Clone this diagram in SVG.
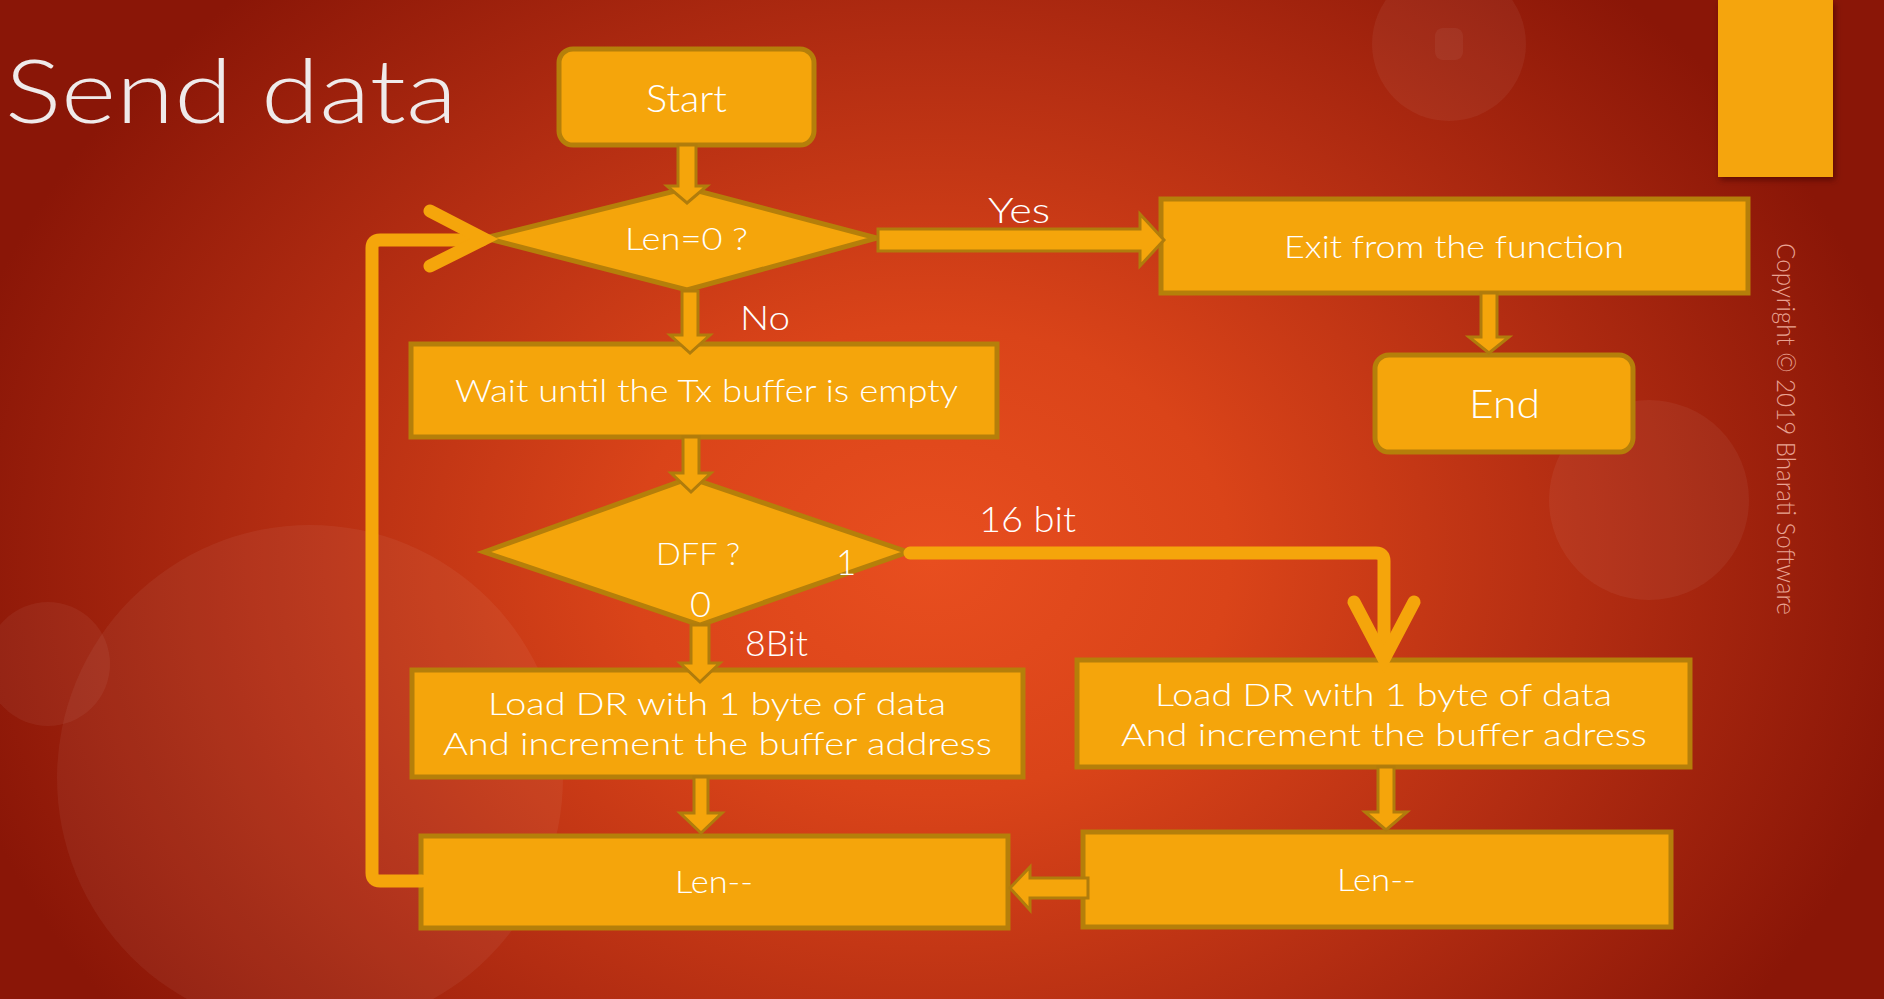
<svg xmlns="http://www.w3.org/2000/svg" width="1884" height="999" viewBox="0 0 1884 999">
<defs>
  <radialGradient id="bg" gradientUnits="userSpaceOnUse" cx="930" cy="560" r="1000" gradientTransform="translate(930 560) scale(1 0.78) translate(-930 -560)">
    <stop offset="0" stop-color="#E84E1F"/>
    <stop offset="0.3" stop-color="#DA4419"/>
    <stop offset="0.65" stop-color="#B32D12"/>
    <stop offset="1" stop-color="#8A1607"/>
  </radialGradient>
  <filter id="shadow" x="-20%" y="-20%" width="140%" height="140%">
    <feDropShadow dx="2" dy="3" stdDeviation="3" flood-color="#3a0500" flood-opacity="0.6"/>
  </filter>
  <style>
    .box{fill:#F5A50B;stroke:#B57F0A;stroke-width:5}
    .arr{fill:#F5A50B;stroke:#B07C0C;stroke-width:3;stroke-linejoin:miter}
    .line{fill:none;stroke:#F5A50B;stroke-width:13;stroke-linecap:round;stroke-linejoin:round}
    .head{fill:none;stroke:#F5A50B;stroke-width:13;stroke-linecap:round;stroke-linejoin:miter}
    .t{font-family:"Lato","Open Sans","DejaVu Sans",sans-serif;font-weight:300;fill:#FFFFFF}
    .deco{fill:#FFFFFF;fill-opacity:0.05}
  </style>
</defs>

<rect x="0" y="0" width="1884" height="999" fill="url(#bg)"/>

<g id="decor">
  <circle class="deco" cx="1449" cy="44" r="77"/>
  <rect class="deco" x="1435" y="28" width="28" height="32" rx="8"/>
  <circle class="deco" cx="1649" cy="500" r="100"/>
  <circle class="deco" cx="310" cy="778" r="253"/>
  <circle class="deco" cx="48" cy="664" r="62"/>
  <rect x="1718" y="0" width="115" height="177" fill="#F5A50B" filter="url(#shadow)"/>
  <text class="t" x="1777" y="243" font-size="26" style="fill:#E8A393" textLength="372" lengthAdjust="spacingAndGlyphs" transform="rotate(90 1777 243)">Copyright © 2019 Bharati Software</text>
</g>

<text id="title" class="t" x="5" y="123" font-size="88" style="fill:#EFEAEA" textLength="452" lengthAdjust="spacingAndGlyphs">Send data</text>

<g id="n-start">
  <rect class="box" x="559" y="49" width="255" height="96" rx="14"/>
  <text class="t" x="646" y="112" font-size="38" textLength="81" lengthAdjust="spacingAndGlyphs">Start</text>
</g>

<g id="n-len0">
  <polygon class="box" points="485,238 687,188 877,238 687,290"/>
  <text class="t" x="625" y="250" font-size="31" textLength="123" lengthAdjust="spacingAndGlyphs">Len=0 ?</text>
</g>

<g id="n-exit">
  <rect class="box" x="1161" y="199" width="587" height="94"/>
  <text class="t" x="1284" y="258" font-size="32" textLength="340" lengthAdjust="spacingAndGlyphs">Exit from the function</text>
</g>

<g id="n-end">
  <rect class="box" x="1375" y="355" width="258" height="97" rx="14"/>
  <text class="t" x="1469" y="418" font-size="39" textLength="71" lengthAdjust="spacingAndGlyphs">End</text>
</g>

<g id="n-wait">
  <rect class="box" x="411" y="344" width="586" height="93"/>
  <text class="t" x="455" y="402" font-size="32" textLength="503" lengthAdjust="spacingAndGlyphs">Wait until the Tx buffer is empty</text>
</g>

<g id="n-dff">
  <polygon class="box" points="484,552 690,478 908,552 700,625"/>
  <text class="t" x="656" y="565" font-size="31" textLength="84" lengthAdjust="spacingAndGlyphs">DFF ?</text>
  <text class="t" x="836" y="575" font-size="35">1</text>
  <text class="t" x="690" y="617" font-size="36" textLength="21" lengthAdjust="spacingAndGlyphs">0</text>
</g>

<g id="n-load8">
  <rect class="box" x="412" y="670" width="611" height="107"/>
  <text class="t" x="488" y="715" font-size="31" textLength="458" lengthAdjust="spacingAndGlyphs">Load DR with 1 byte of data</text>
  <text class="t" x="443" y="755" font-size="31" textLength="549" lengthAdjust="spacingAndGlyphs">And increment the buffer address</text>
</g>

<g id="n-len8">
  <rect class="box" x="421" y="836" width="587" height="92"/>
  <text class="t" x="675" y="893" font-size="31" textLength="78" lengthAdjust="spacingAndGlyphs">Len--</text>
</g>

<g id="n-load16">
  <rect class="box" x="1077" y="660" width="613" height="107"/>
  <text class="t" x="1155" y="706" font-size="31" textLength="457" lengthAdjust="spacingAndGlyphs">Load DR with 1 byte of data</text>
  <text class="t" x="1121" y="746" font-size="31" textLength="526" lengthAdjust="spacingAndGlyphs">And increment the buffer adress</text>
</g>

<g id="n-len16">
  <rect class="box" x="1083" y="832" width="588" height="95"/>
  <text class="t" x="1337" y="891" font-size="31" textLength="79" lengthAdjust="spacingAndGlyphs">Len--</text>
</g>

<g id="connectors">
  <polygon class="arr" points="678,145 696,145 696,186 707,186 687,203 667,186 678,186"/>
  <polygon class="arr" points="682,291 698,291 698,335 710,335 690,353 670,335 682,335"/>
  <polygon class="arr" points="683,437 699,437 699,473 711,473 691,492 671,473 683,473"/>
  <polygon class="arr" points="691,625 709,625 709,663 720,663 700,682 680,663 691,663"/>
  <polygon class="arr" points="694,777 708,777 708,813 722,813 701,833 680,813 694,813"/>
  <polygon class="arr" points="1481,293 1497,293 1497,337 1509,337 1489,353 1469,337 1481,337"/>
  <polygon class="arr" points="1378,767 1394,767 1394,812 1407,812 1386,830 1365,812 1378,812"/>
  <polygon class="arr" points="878,229 1140,229 1140,214 1164,240 1140,266 1140,251 878,251"/>
  <polygon class="arr" points="1088,878 1030,878 1030,867 1010,888 1030,910 1030,898 1088,898"/>
  <path class="line" d="M 422 881 H 380 Q 372 881 372 873 V 248 Q 372 240 380 240 H 482"/>
  <path class="head" d="M 430 211 L 484 239 L 430 266"/>
  <path class="line" d="M 910 553 H 1376 Q 1384 553 1384 561 V 654"/>
  <path class="head" d="M 1354 602 L 1384 659 L 1414 602"/>
  <text class="t" x="988" y="223" font-size="35" textLength="62" lengthAdjust="spacingAndGlyphs">Yes</text>
  <text class="t" x="740" y="330" font-size="34" textLength="50" lengthAdjust="spacingAndGlyphs">No</text>
  <text class="t" x="979" y="532" font-size="36" textLength="97" lengthAdjust="spacingAndGlyphs">16 bit</text>
  <text class="t" x="745" y="656" font-size="35" textLength="63" lengthAdjust="spacingAndGlyphs">8Bit</text>
</g>
</svg>
